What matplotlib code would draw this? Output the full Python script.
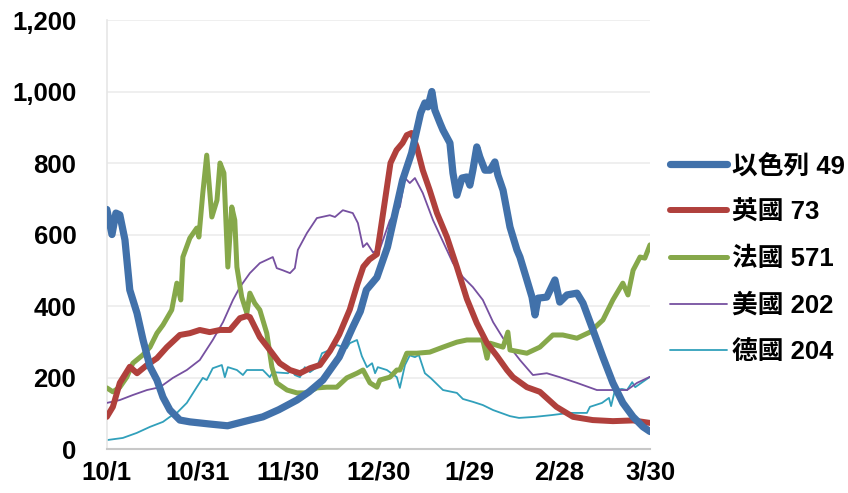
import matplotlib
matplotlib.use("Agg")
import matplotlib.pyplot as plt

# ── Data (days since 10/1) ───────────────────────────────────────────────────
isr_day = [0, 1.7, 3, 4.3, 6, 7.6, 10, 12, 14.3, 16.6, 18.6, 20.9, 24.2, 27.5, 34, 40,
           46, 51.7, 57, 63, 67, 71.6, 77, 81.5, 84, 86, 89.5, 93, 95, 98, 101, 104,
           105.4, 106.4, 107.7, 108.7, 110.4, 111.4, 113.7, 114.7, 116, 117.7, 119.3,
           120.3, 121.3, 122.6, 123.6, 125.3, 127, 128.6, 129.6, 131.3, 133.6, 135.9,
           136.9, 139.2, 140.9, 141.9, 142.9, 145.8, 148.5, 150.1, 152.5, 155.8, 157.8,
           161.1, 164.4, 167.7, 171, 174.4, 177.7, 180]
isr_val = [670, 600, 660, 655, 585, 445, 380, 305, 230, 193, 145, 109, 81, 76, 70, 65,
           78, 90, 110, 137, 160, 193, 257, 341, 385, 445, 480, 565, 640, 752, 828, 940,
           968, 957, 1000, 948, 912, 892, 856, 772, 710, 758, 761,
           738, 780, 845, 817, 780, 780, 803, 766, 724, 621, 557,
           537, 473, 425, 375, 422, 425, 473, 411, 431, 436, 408,
           333, 257, 185, 129, 90, 62, 49]

uk_day = [0, 2, 4.3, 7.6, 10, 13.3, 16.6, 19.9, 24.2, 27.5, 30.8, 34.1, 37.5, 40.8,
          44.1, 46.4, 47.4, 50.7, 54, 57.3, 60.7, 64, 67.3, 70.6, 74, 77, 80.5, 83, 85,
          87, 89.5, 90.5, 94, 96, 98, 99.4, 101, 102.7, 104.7, 107, 109.4, 112.7, 116,
          119.3, 122.6, 126, 129.3, 132.6, 134.6, 139.2, 143.5, 149, 154.5, 161, 167.7,
          174.4, 180]
uk_val = [90, 118, 185, 230, 212, 235, 254, 285, 319, 324, 333, 327, 333, 333,
          366, 372, 369, 313, 277, 240, 221, 212, 226, 235, 275, 320, 390, 460, 510,
          530, 545, 600, 800, 836, 856, 878, 884, 845, 780, 724, 660, 593, 509,
          420, 352, 296, 260, 221, 201, 173, 160, 118, 90, 81, 78,
          80, 73]

fra_day = [0, 2, 4.3, 6.6, 8.6, 11.9, 14.3, 16.6, 18.6, 21.5, 23.2, 24.5, 25.2, 27.5,
           29.8, 30.5, 31.8, 33.1, 34.8, 36.5, 37.5, 38.8, 40.1, 41.4, 42.4, 43.1, 44.7,
           46.4, 47.4, 49, 50.7, 53, 54.7, 56.3, 59.7, 63, 66.3, 69.6, 72.9, 76.2, 79.5,
           82.9, 84.9, 87.2, 89.5, 90.5, 93.8, 96.1, 97.1, 99.4, 102.7, 107, 111.4, 116,
           119.3, 124.6, 126, 127, 131.3, 132.9, 133.6, 139.2, 143.5, 147.8, 151.1,
           155.8, 160.1, 164.4, 167.7, 171, 172.7, 174.4, 176.7, 178.3, 180]
fra_val = [171, 160, 173, 201, 240, 263, 285, 324, 347, 389, 464, 417, 537, 590,
           618, 593, 716, 822, 649, 696, 800, 772, 509, 677, 640, 509, 425,
           380, 436, 408, 389, 324, 229, 185, 165, 157, 157, 171, 173, 173, 199,
           212, 221, 185, 173, 193, 201, 221, 221, 268, 268, 271, 285, 299,
           305, 305, 254, 296, 285, 327, 277, 268, 285, 319, 319,
           310, 327, 361, 417, 464, 431, 500, 537, 534, 571]

usa_day = [0, 4.3, 8.6, 13.3, 17.6, 21.9, 26.5, 30.8, 35.1, 38.5, 41.8, 44.1, 47.4,
           50.7, 55, 56.3, 58.3, 60.7, 62.3, 63.3, 66.3, 69.6, 73.9, 75.6, 78.2, 81.5,
           83.2, 84.9, 86.2, 88.2, 90.5, 93.8, 97.1, 98.8, 100.4, 102.1, 104.7, 108.1,
           111.4, 114.7, 118, 121.3, 124.6, 128, 131.3, 136.9, 141.2, 145.8, 150.1,
           155.8, 162.4, 167.7, 172.4, 175.7, 180]
usa_val = [129, 137, 151, 165, 173, 199, 221, 249, 305, 355, 417, 453, 492,
           520, 537, 506, 500, 492, 506, 557, 604, 646, 654, 649, 668, 660,
           632, 565, 576, 550, 560, 640, 677, 758, 744, 758, 716, 640,
           580, 520, 481, 453, 417, 355, 310, 249, 207, 212, 201,
           185, 165, 165, 165, 185, 202]

ger_day = [0, 5.3, 9.9, 14.3, 18.6, 20.9, 23.2, 26.5, 29.8, 31.8, 33.1, 35.1, 38.1,
           39.1, 40.1, 43.1, 45.1, 46.4, 51.7, 54, 55, 60, 61.3, 62.3, 64, 65.6, 67.3,
           69.6, 71.3, 73.9, 76.2, 79.5, 80.5, 82.9, 84.5, 86.2, 87.9, 88.9, 89.8, 92.8,
           96.1, 97.1, 98.8, 100.4, 102.1, 103.4, 105.4, 107.4, 111.4, 116, 118, 121.3,
           124.6, 128, 133.6, 136.6, 141.9, 147.5, 153.2, 159.1, 160.1, 164.1, 166.4,
           167.1, 168.4, 170.7, 172.4, 174.1, 175.1, 180]
ger_val = [25, 31, 45, 62, 76, 90, 101, 129, 173, 199, 193, 226, 235,
           201, 229, 221, 207, 221, 221, 201, 215, 212, 221, 207, 201, 229, 215,
           229, 268, 277, 291, 282, 296, 305, 260, 229, 240, 212, 229, 221,
           201, 171, 235, 262, 257, 263, 212, 198, 165, 157, 140, 132,
           123, 109, 92, 87, 90, 95, 101, 101, 118, 129, 143,
           120, 165, 168, 165, 187, 173, 202]

tick_days   = [0, 30, 60, 90, 120, 150, 180]
tick_labels = ["10/1", "10/31", "11/30", "12/30", "1/29", "2/28", "3/30"]

# ── Style ────────────────────────────────────────────────────────────────────
plt.rcParams["font.family"] = ["Liberation Sans", "Noto Sans CJK TC", "DejaVu Sans"]
plt.rcParams["font.weight"] = "bold"

fig = plt.figure(figsize=(8.48, 4.93), dpi=100)
ax = fig.add_axes([0.126, 0.0892, 0.6405, 0.8702])

line_kw = dict(solid_joinstyle="round", solid_capstyle="round")
ax.plot(ger_day, ger_val, color="#31a0bb", lw=1.3, label="德國 204", zorder=2, **line_kw)
ax.plot(usa_day, usa_val, color="#7650a0", lw=1.3, label="美國 202", zorder=3, **line_kw)
ax.plot(fra_day, fra_val, color="#86a84a", lw=3.6, label="法國 571", zorder=4, **line_kw)
ax.plot(uk_day, uk_val, color="#b0403c", lw=4.3, label="英國 73", zorder=5, **line_kw)
ax.plot(isr_day, isr_val, color="#4171aa", lw=5.2, label="以色列 49", zorder=6, **line_kw)

ax.set_xlim(0, 180)
ax.set_ylim(0, 1200)
ax.set_yticks(range(0, 1201, 200))
ax.set_yticklabels([f"{v:,}" for v in range(0, 1201, 200)])
ax.set_xticks(tick_days)
ax.set_xticklabels(tick_labels)
ax.tick_params(axis="both", length=0, labelsize=18.5)
ax.tick_params(axis="y", pad=22)
ax.tick_params(axis="x", pad=8)

ax.grid(axis="y", color="#ececec", lw=1.2)
ax.set_axisbelow(True)
for side in ["top", "right"]:
    ax.spines[side].set_visible(False)
ax.spines["left"].set_color("#e6e6e6")
ax.spines["bottom"].set_color("#c8c8c8")
ax.spines["left"].set_linewidth(1.2)
ax.spines["bottom"].set_linewidth(1.5)

# legend in the original order
handles, labels = ax.get_legend_handles_labels()
order = [4, 3, 2, 1, 0]
leg = fig.legend([handles[i] for i in order], [labels[i] for i in order],
                 loc="upper left", bbox_to_anchor=(0.79, 0.688), frameon=False,
                 fontsize=18.5, handlelength=2.22, handletextpad=0.2,
                 labelspacing=0.86, borderpad=0, borderaxespad=0)

fig.savefig("out.png", dpi=100)
